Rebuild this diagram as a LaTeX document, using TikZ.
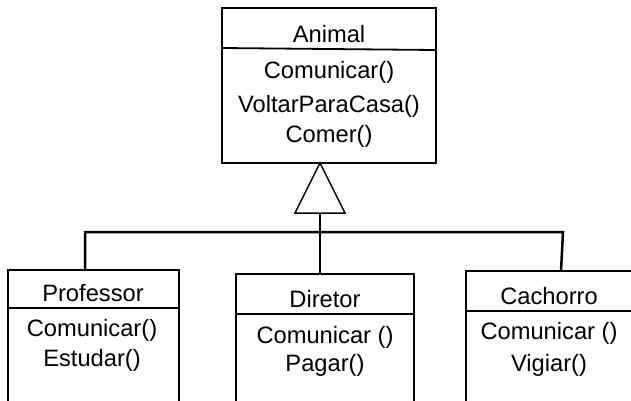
\documentclass[tikz,border=0pt]{standalone}
\usepackage{fontspec}
\newfontfamily\umlfont{Liberation Sans}
\begin{document}
\begin{tikzpicture}[x=1pt,y=-1pt,
  box/.style={draw, line width=1.5pt, anchor=north west, inner sep=0pt, outer sep=0pt},
  divline/.style={line width=1.8pt},
  conn/.style={line width=2.5pt},
  tri/.style={draw, fill=white, line width=1.5pt},
  lbl/.style={anchor=base, inner sep=0pt, font=\umlfont\fontsize{23.7pt}{28pt}\selectfont}]
\useasboundingbox (0,0) rectangle (631,400);
\clip (0,0) rectangle (631,400);
% class boxes
\node[box, minimum width=214pt, minimum height=155pt] (animal) at (222,8) {};
\node[box, minimum width=171pt, minimum height=150pt] (prof) at (8,270) {};
\node[box, minimum width=178pt, minimum height=150pt] (dir) at (236,274) {};
\node[box, minimum width=172pt, minimum height=150pt] (cach) at (466,271) {};
% dividers
\draw[divline] ([yshift=-40pt]animal.north west) -- ([yshift=-42pt]animal.north east);
\draw[divline] ([yshift=-38pt]prof.north west) -- ([yshift=-38pt]prof.north east);
\draw[divline] ([yshift=-40pt]dir.north west) -- ([yshift=-40pt]dir.north east);
\draw[divline] ([yshift=-40pt]cach.north west) -- ([yshift=-40pt]cach.north east);
% texts
\node[lbl] (t1) at (329,42) {Animal};
\node[lbl] (t2) at (329,78) {Comunicar()};
\node[lbl] (t3) at (329,112) {VoltarParaCasa()};
\node[lbl] (t4) at (329,142) {Comer()};
\node[lbl] (p1) at (93,301) {Professor};
\node[lbl] (p2) at (92,336) {Comunicar()};
\node[lbl] (p3) at (92,366) {Estudar()};
\node[lbl] (d1) at (325,307) {Diretor};
\node[lbl] (d2) at (325,343) {Comunicar ()};
\node[lbl] (d3) at (325,371) {Pagar()};
\node[lbl] (c1) at (549,304) {Cachorro};
\node[lbl] (c2) at (549,339) {Comunicar ()};
\node[lbl] (c3) at (549,371) {Vigiar()};
% generalisation
\coordinate (apex) at ([xshift=-9pt]animal.south);
\coordinate (tb) at ([yshift=-50pt]apex);
\coordinate (tl) at ([xshift=-25pt]tb);
\coordinate (tr) at ([xshift=25pt]tb);
\coordinate (pl) at (85,232);
\coordinate (pr) at (563,232);
\coordinate (ct) at (561,271);
\draw[conn] (tb) -- (tb |- dir.north);
\draw[conn] (pl |- prof.north) -- (pl) -- (pr) -- (ct);
\draw[tri] (apex) -- (tr) -- (tl) -- cycle;
\end{tikzpicture}
\end{document}
